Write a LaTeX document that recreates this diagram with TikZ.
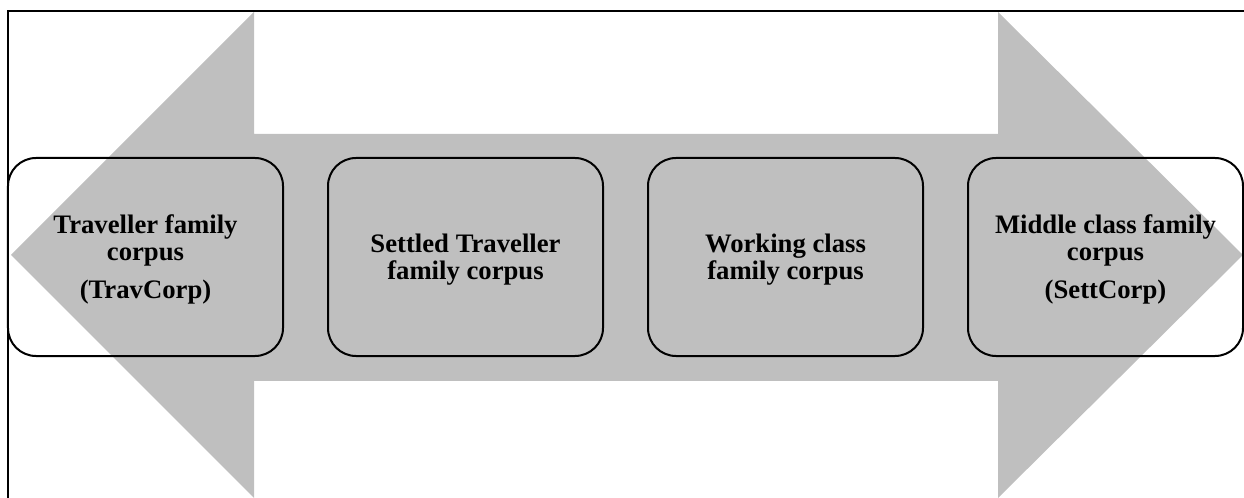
\documentclass[tikz,border=0pt]{standalone}
\usepackage{fontspec}
\setmainfont{Liberation Serif}
\definecolor{arrowgray}{RGB}{191,191,191}
\begin{document}
\begin{tikzpicture}[x=1bp,y=-1bp,
  corpbox/.style={draw=black,line width=2bp,rounded corners=28bp,minimum width=275bp,minimum height=198bp,inner sep=0pt},
  corptext/.style={align=center,font=\fontsize{26.7bp}{27bp}\selectfont\bfseries,inner sep=0pt},
  frameline/.style={draw=black,line width=2bp}]
\useasboundingbox (0,0) rectangle (1244,498);
% double arrow
\fill[arrowgray] (11,255) -- (254,12) -- (254,134) -- (998,134) -- (998,12) -- (1243,255)
  -- (998,498) -- (998,381) -- (254,381) -- (254,498) -- cycle;
% frame
\coordinate (fb) at (8,498);
\coordinate (fc) at (8,11);
\coordinate (fr) at (1244,11);
\draw[frameline] (fb) -- (fc) -- (fr);
% boxes
\node[corpbox] (b1) at (145.5,257) {};
\node[corpbox] (b2) at (465.5,257) {};
\node[corpbox] (b3) at (785.5,257) {};
\node[corpbox] (b4) at (1105.5,257) {};
% texts
\node[corptext] (t1) at ([yshift=-2.4bp]b1.center) {Traveller family\\corpus\\[11bp](TravCorp)};
\node[corptext] (t2) at ([yshift=-2.4bp]b2.center) {Settled Traveller\\family corpus};
\node[corptext] (t3) at ([yshift=-2.4bp]b3.center) {Working class\\family corpus};
\node[corptext] (t4) at ([yshift=-2.4bp]b4.center) {Middle class family\\corpus\\[11bp](SettCorp)};
\end{tikzpicture}
\end{document}
